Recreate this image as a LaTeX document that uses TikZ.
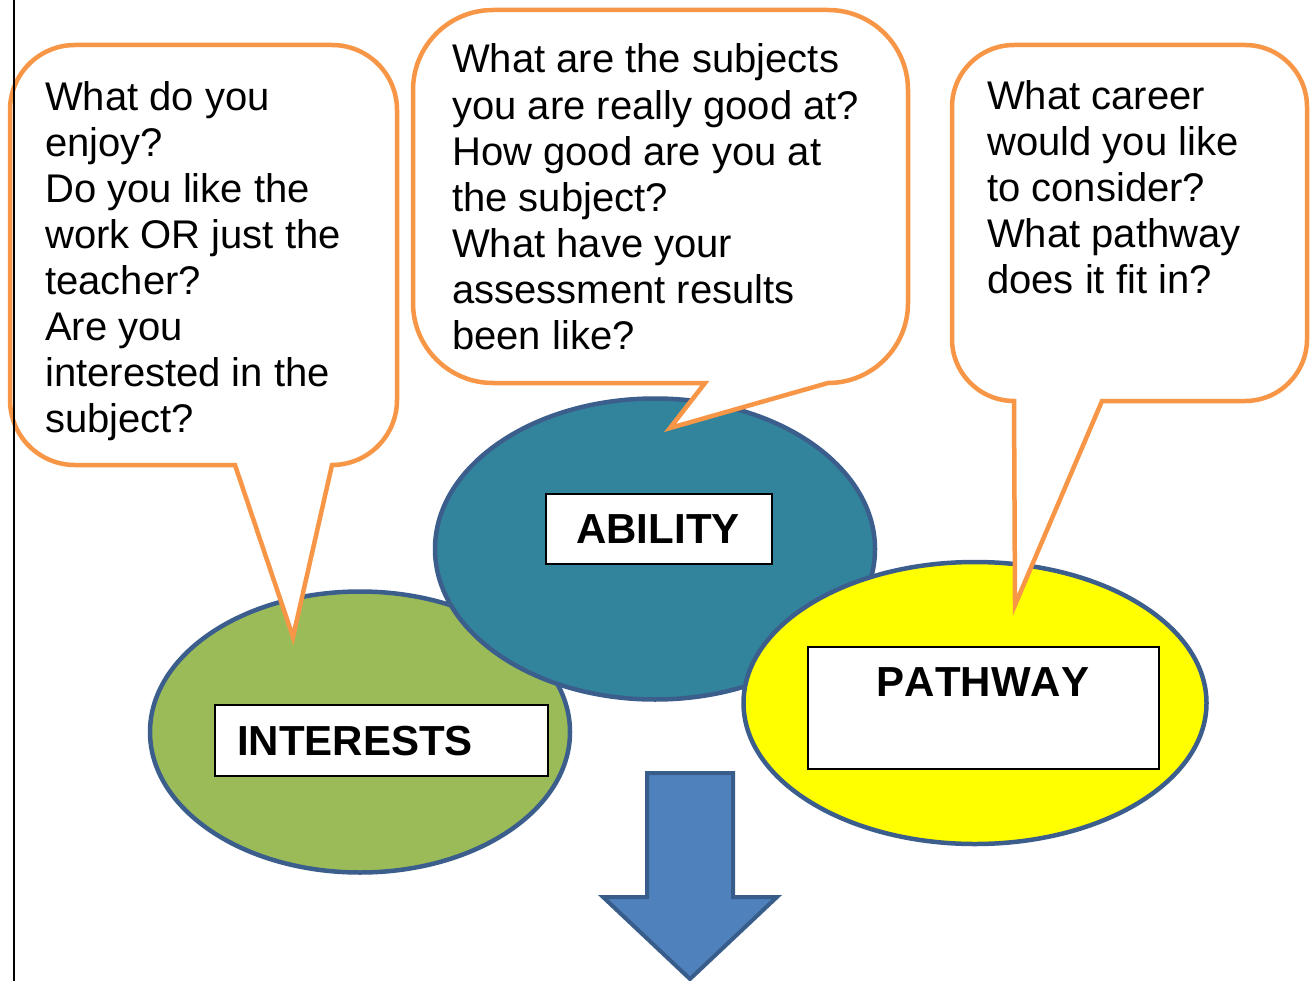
\documentclass[tikz,border=0pt]{standalone}
\usepackage{fontspec}
\setmainfont[Kerning=Off]{Liberation Sans}
\usetikzlibrary{shapes.geometric}
\definecolor{bubbleorange}{HTML}{F79646}
\definecolor{ovalline}{HTML}{3B5E8C}
\definecolor{tealfill}{HTML}{31849B}
\definecolor{greenfill}{HTML}{9BBB59}
\definecolor{yellowfill}{HTML}{FFFF00}
\definecolor{arrowfill}{HTML}{4F81BD}
\definecolor{arrowline}{HTML}{385D8A}
\tikzset{
  bubble/.style={draw=bubbleorange, fill=white, line width=4.5pt, line join=miter},
  oval/.style={ellipse, draw=ovalline, line width=4.5pt, inner sep=0pt},
  qtext/.style={font=\fontsize{40}{46}\selectfont, align=left, inner sep=0pt, anchor=base west},
  labelbox/.style={draw=black, fill=white, line width=2pt, inner sep=0pt, anchor=north west},
  labeltext/.style={font=\fontsize{42}{48}\selectfont\bfseries, inner sep=0pt, anchor=base west},
}
\begin{document}
\begin{tikzpicture}[x=1pt,y=-1pt]
\useasboundingbox (0,0) rectangle (1313,981);
% ovals
\node[oval, fill=greenfill, minimum width=420pt, minimum height=281pt] (interests) at (360,732) {};
\node[oval, fill=tealfill, minimum width=440pt, minimum height=301pt] (ability) at (655,549) {};
\node[oval, fill=yellowfill, minimum width=463pt, minimum height=282pt] (pathway) at (975,703) {};
% label boxes
\node[labelbox, minimum width=333pt, minimum height=71pt] (intbox) at (214,704) {};
\node[labeltext] (inttext) at (237,755) {INTERESTS};
\node[labelbox, minimum width=226pt, minimum height=70pt] (abibox) at (545,493) {};
\node[labeltext, anchor=base] (abitext) at (658,543) {ABILITY};
\node[labelbox, minimum width=351pt, minimum height=122pt] (patbox) at (807,646) {};
\node[labeltext, anchor=base] (pattext) at (983,696) {PATHWAY};
% bubble tail tips
\coordinate (tipL) at (293,637);
\coordinate (tipM) at (670,428);
\coordinate (tipR) at (1015,605);
% left bubble
\draw[bubble] (75,45) -- (332,45) arc[start angle=270, end angle=360, radius=65]
  -- (397,400) arc[start angle=0, end angle=90, radius=65]
  -- (tipL) -- (235,465) -- (75,465) arc[start angle=90, end angle=180, radius=65]
  -- (10,110) arc[start angle=180, end angle=270, radius=65] -- cycle;
% middle bubble
\draw[bubble] (493,10) -- (828,10) arc[start angle=270, end angle=360, radius=80]
  -- (908,303) arc[start angle=0, end angle=90, radius=80]
  -- (tipM) -- (705,383) -- (493,383) arc[start angle=90, end angle=180, radius=80]
  -- (413,90) arc[start angle=180, end angle=270, radius=80] -- cycle;
% right bubble
\draw[bubble] (1014,45) -- (1245,45) arc[start angle=270, end angle=360, radius=62]
  -- (1307,339) arc[start angle=0, end angle=90, radius=62]
  -- (1102,401) -- (tipR) -- (1014,401) arc[start angle=90, end angle=180, radius=62]
  -- (952,107) arc[start angle=180, end angle=270, radius=62] -- cycle;
% bubble texts (anchor = baseline of the last line)
\node[qtext] (qleft) at (45,432) {What do you\\enjoy?\\Do you like the\\work OR just the\\teacher?\\Are you\\interested in the\\subject?};
\node[qtext] (qmid) at (452,349) {What are the subjects\\you are really good at?\\How good are you at\\the subject?\\What have your\\assessment results\\been like?};
\node[qtext] (qright) at (987,294) {What career\\would you like\\to consider?\\What pathway\\does it fit in?};
% down arrow
\draw[fill=arrowfill, draw=arrowline, line width=4pt, line join=miter]
  (647,773) -- (733,773) -- (733,897) -- (777,897) -- (690,979) -- (603,897) -- (647,897) -- cycle;
% margin rule
\coordinate (ruletop) at (14,0);
\coordinate (rulebot) at (14,981);
\draw[line width=2pt, black] (ruletop) -- (rulebot);
\end{tikzpicture}
\end{document}
